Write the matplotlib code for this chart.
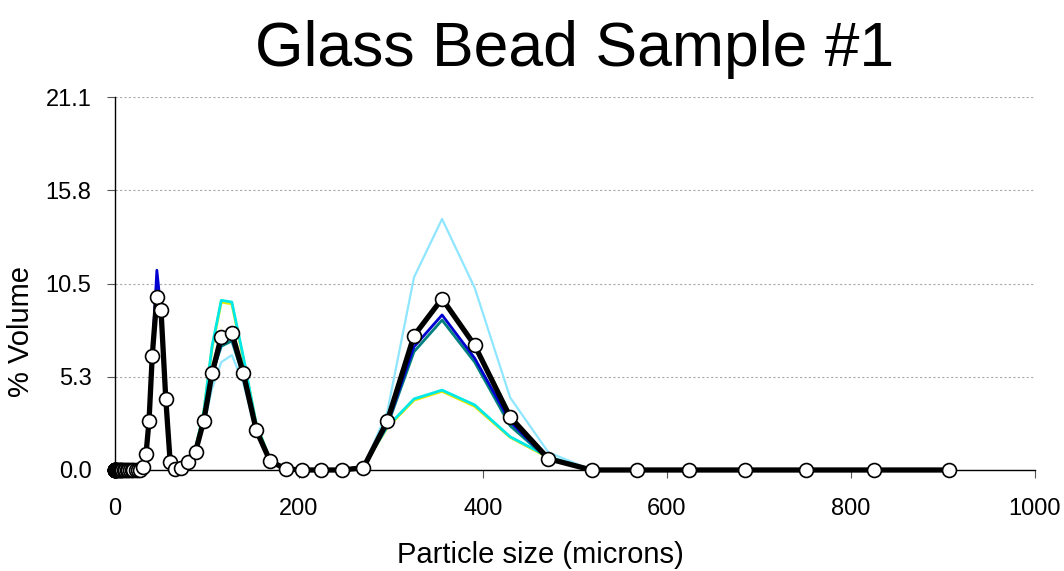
import matplotlib
matplotlib.use('Agg')
from matplotlib import pyplot as plt

plt.rcParams['font.family'] = ['Liberation Sans', 'DejaVu Sans']

# particle size channels (microns)
sizes = [0.02, 0.04, 0.06, 0.08, 0.1, 0.15, 0.2, 0.25, 0.3, 0.4,
         0.5, 1.0, 1.5, 2.0, 3.0, 4.0, 5.0, 6.0, 7.0, 8.0, 9.5, 11.0, 12.5, 14.0,
         16.0, 18.0, 20.0, 22.5, 25.0, 27.5, 30.4, 33.7, 37.0, 40.5, 45.5, 50.0,
         55.2, 60.0, 65.5, 72.0, 79.0, 87.5, 96.5, 105.5, 115.5, 127.0, 139.5,
         153.5, 168.5, 185.5, 203.5, 224.0, 246.5, 270.0, 296.0, 325.0, 355.5,
         391.0, 429.5, 471.0, 518.0, 567.5, 624.0, 685.0, 751.0, 825.0, 906.5]

zeros30 = [0.0] * 30

run_lightcyan = zeros30 + [0.15, 0.8, 2.6, 6.2, 9.4, 8.7, 3.9, 0.4, 0.05, 0.1, 0.4, 0.9,
                           2.5, 4.6, 6.1, 6.5, 4.9, 2.1, 0.5, 0.05, 0.0, 0.0, 0.0, 0.15,
                           3.3, 10.9, 14.2, 10.3, 4.1, 1.0, 0.0, 0.0, 0.0, 0.0, 0.0, 0.0, 0.0]
run_yellow = zeros30 + [0.15, 0.85, 2.8, 6.6, 9.8, 9.1, 4.1, 0.45, 0.05, 0.1, 0.5, 1.2,
                        3.3, 6.9, 9.5, 9.4, 6.3, 2.6, 0.6, 0.05, 0.0, 0.0, 0.0, 0.2,
                        2.4, 3.95, 4.45, 3.6, 1.85, 0.7, 0.0, 0.0, 0.0, 0.0, 0.0, 0.0, 0.0]
run_cyan = zeros30 + [0.15, 0.85, 2.8, 6.6, 9.9, 9.1, 4.1, 0.45, 0.05, 0.1, 0.5, 1.2,
                      3.3, 7.0, 9.6, 9.5, 6.4, 2.6, 0.6, 0.05, 0.0, 0.0, 0.0, 0.2,
                      2.45, 4.02, 4.52, 3.68, 1.88, 0.75, 0.0, 0.0, 0.0, 0.0, 0.0, 0.0, 0.0]
run_teal = zeros30 + [0.15, 0.85, 2.7, 6.4, 10.2, 8.9, 4.0, 0.4, 0.05, 0.1, 0.45, 1.0,
                      2.8, 5.4, 7.0, 7.3, 5.3, 2.2, 0.5, 0.05, 0.0, 0.0, 0.0, 0.15,
                      2.5, 6.69, 8.48, 6.1, 2.5, 0.6, 0.0, 0.0, 0.0, 0.0, 0.0, 0.0, 0.0]
run_blue = zeros30 + [0.15, 0.85, 2.75, 6.5, 11.3, 9.0, 4.0, 0.4, 0.05, 0.1, 0.45, 1.0,
                      2.8, 5.4, 7.2, 7.5, 5.4, 2.2, 0.5, 0.05, 0.0, 0.0, 0.0, 0.15,
                      2.6, 6.97, 8.77, 6.32, 2.73, 0.6, 0.0, 0.0, 0.0, 0.0, 0.0, 0.0, 0.0]
average = zeros30 + [0.19, 0.89, 2.79, 6.47, 9.80, 9.05, 4.02, 0.43, 0.06, 0.11, 0.44, 1.04,
                     2.79, 5.47, 7.54, 7.77, 5.47, 2.26, 0.51, 0.06, 0.0, 0.0, 0.0, 0.13,
                     2.77, 7.60, 9.69, 7.05, 3.0, 0.64, 0.0, 0.0, 0.0, 0.0, 0.0, 0.0, 0.0]

yticks = [0.0, 5.275, 10.55, 15.825, 21.1]
ytick_labels = ['0.0', '5.3', '10.5', '15.8', '21.1']
xticks = [0, 200, 400, 600, 800, 1000]

fig = plt.figure(figsize=(10.64, 5.71), dpi=100)
ax = fig.add_axes([115 / 1064, 101 / 571, 920 / 1064, 373 / 571])

ax.plot(sizes, run_lightcyan, color='#8fe6ff', linewidth=1.6, zorder=2)
ax.plot(sizes, run_yellow, color='#e8e800', linewidth=2.0, zorder=3)
ax.plot(sizes, run_cyan, color='#00e8e8', linewidth=2.0, zorder=4)
ax.plot(sizes, run_teal, color='#007f7f', linewidth=2.0, zorder=5)
ax.plot(sizes, run_blue, color='#0000d0', linewidth=2.0, zorder=6)
ax.plot(sizes, average, color='black', linewidth=3.8, marker='o', markersize=10,
        markerfacecolor='white', markeredgecolor='black', markeredgewidth=1.2,
        zorder=7, clip_on=False)

ax.set_xlim(0, 1000)
ax.set_ylim(0, 21.1)
ax.set_xticks(xticks)
ax.set_yticks(yticks)
ax.set_yticklabels(ytick_labels)
ax.tick_params(axis='both', labelsize=17, direction='out', length=6, width=0.8, color='#555555')
ax.tick_params(axis='x', pad=14)
ax.tick_params(axis='y', pad=11)
ax.grid(axis='y', linestyle=(0, (2, 2)), color='#aaaaaa', linewidth=0.8)
ax.set_axisbelow(True)

for s in ['top', 'right']:
    ax.spines[s].set_visible(False)
ax.spines['left'].set_linewidth(1.0)
ax.spines['bottom'].set_linewidth(1.0)

ax.set_title('Glass Bead Sample #1', fontsize=45, pad=22)
ax.set_xlabel('Particle size (microns)', fontsize=21)
ax.set_ylabel('% Volume', fontsize=21)
ax.xaxis.set_label_coords(0.462, -0.19)
ax.yaxis.set_label_coords(-0.087, 0.37)

fig.savefig('out.png', dpi=100)
